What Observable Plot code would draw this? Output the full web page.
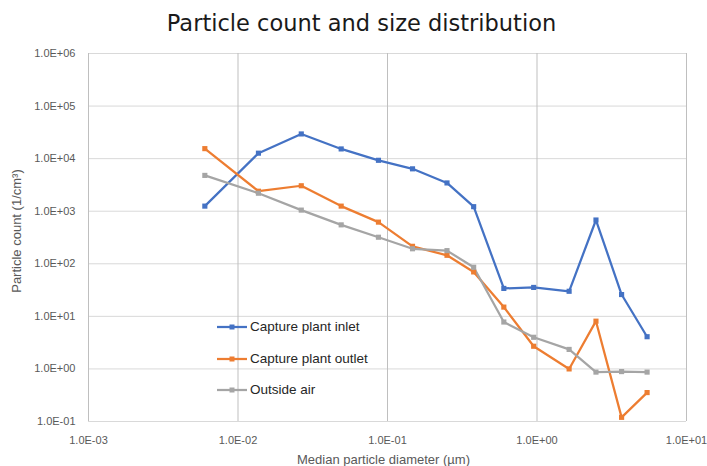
<!DOCTYPE html>
<html>
<head>
<meta charset="utf-8">
<script src="https://cdn.jsdelivr.net/npm/d3@7"></script>
<script src="https://cdn.jsdelivr.net/npm/@observablehq/plot@0.6"></script>
<style>
  body { margin: 0; background: #fff; }
  #wrap { position: relative; width: 707px; height: 466px; overflow: hidden; font-family: "Liberation Sans", Arial, sans-serif; background: #fff; }
  #wrap svg.plot { position: absolute; left: 0; top: 0; }
  #title { position: absolute; left: 0; top: 10px; width: 707px; text-align: center; font-family: "DejaVu Sans", sans-serif; font-size: 22.5px; color: #1a1a1a; transform: translateX(8px); white-space: nowrap; }
  #xlabel { position: absolute; left: 0; top: 452px; width: 707px; line-height: 16px; text-align: center; font-size: 13px; color: #595959; transform: translateX(30px); white-space: nowrap; }
  #ylabel { position: absolute; left: -83px; top: 223px; width: 200px; line-height: 16px; text-align: center; font-size: 13px; color: #595959; transform: rotate(-90deg); white-space: nowrap; }
  .leg { position: absolute; left: 217px; height: 16px; line-height: 16px; display: flex; align-items: center; font-size: 13.5px; color: #262626; white-space: nowrap; }
  .leg svg { margin-right: 3px; }
</style>
</head>
<body>
<div id="wrap">
  <div id="title">Particle count and size distribution</div>
  <div id="ylabel">Particle count (1/cm³)</div>
  <div id="xlabel">Median particle diameter (µm)</div>
</div>
<script>
// ---- data ----
const seriesNames = ["Capture plant inlet", "Capture plant outlet", "Outside air"];
const seriesColors = ["#4472C4", "#ED7D31", "#A5A5A5"];
const diameter = [0.006, 0.0137, 0.0265, 0.049, 0.087, 0.147, 0.25, 0.377, 0.6, 0.95, 1.64, 2.48, 3.68, 5.45];
const inlet   = [1250, 12700, 29500, 15300, 9300, 6400, 3450, 1220, 34, 35.5, 30, 680, 26, 4.1];
const outlet  = [15500, 2400, 3050, 1250, 620, 215, 145, 70, 15, 2.7, 1.0, 8.1, 0.12, 0.355];
const outside = [4800, 2200, 1050, 550, 320, 193, 178, 86, 7.8, 4.0, 2.35, 0.87, 0.89, 0.87];
const xTicks = [0.001, 0.01, 0.1, 1, 10];
const yTicks = [0.1, 1, 10, 100, 1000, 10000, 100000, 1000000];

// ---- build table ----
const valuesBySeries = [inlet, outlet, outside];
const rows = [];
seriesNames.forEach((name, s) => {
  diameter.forEach((d, i) => rows.push({series: name, x: d, y: valuesBySeries[s][i]}));
});

const fmt = v => {
  const e = Math.round(Math.log10(v));
  return "1.0E" + (e < 0 ? "-" : "+") + String(Math.abs(e)).padStart(2, "0");
};

const chart = Plot.plot({
  width: 707,
  height: 466,
  marginLeft: 88,
  marginRight: 21,
  marginTop: 53,
  marginBottom: 45,
  style: {fontFamily: "Liberation Sans, Arial, sans-serif", fontSize: "11px", color: "#595959", background: "transparent", overflow: "visible"},
  x: {type: "log", domain: [0.001, 10], ticks: xTicks, tickFormat: fmt, tickSize: 0, tickPadding: 15, label: null},
  y: {type: "log", domain: [0.1, 1000000], ticks: yTicks, tickFormat: fmt, tickSize: 0, tickPadding: 13, label: null},
  color: {domain: seriesNames, range: seriesColors},
  marks: [
    Plot.ruleY(yTicks, {stroke: "#d9d9d9", strokeWidth: 1}),
    Plot.ruleX(xTicks, {stroke: "#bfbfbf", strokeWidth: 1}),
    Plot.line(rows, {x: "x", y: "y", z: "series", stroke: "series", strokeWidth: 2.25, strokeLinejoin: "round", strokeLinecap: "round"}),
    Plot.dot(rows, {x: "x", y: "y", fill: "series", symbol: "square", r: 2.9, stroke: "none"})
  ]
});
chart.classList.add("plot");
const wrap = document.getElementById("wrap");
wrap.insertBefore(chart, wrap.firstChild);

// ---- legend (HTML overlay) ----
const legTops = [319, 351, 382];
seriesNames.forEach((name, i) => {
  const div = document.createElement("div");
  div.className = "leg";
  div.style.top = legTops[i] + "px";
  div.innerHTML = `<svg width="30" height="16"><line x1="0" x2="30" y1="8" y2="8" stroke="${seriesColors[i]}" stroke-width="2.25"/><rect x="12.5" y="5.5" width="5" height="5" fill="${seriesColors[i]}"/></svg><span>${name}</span>`;
  wrap.appendChild(div);
});
</script>
</body>
</html>
